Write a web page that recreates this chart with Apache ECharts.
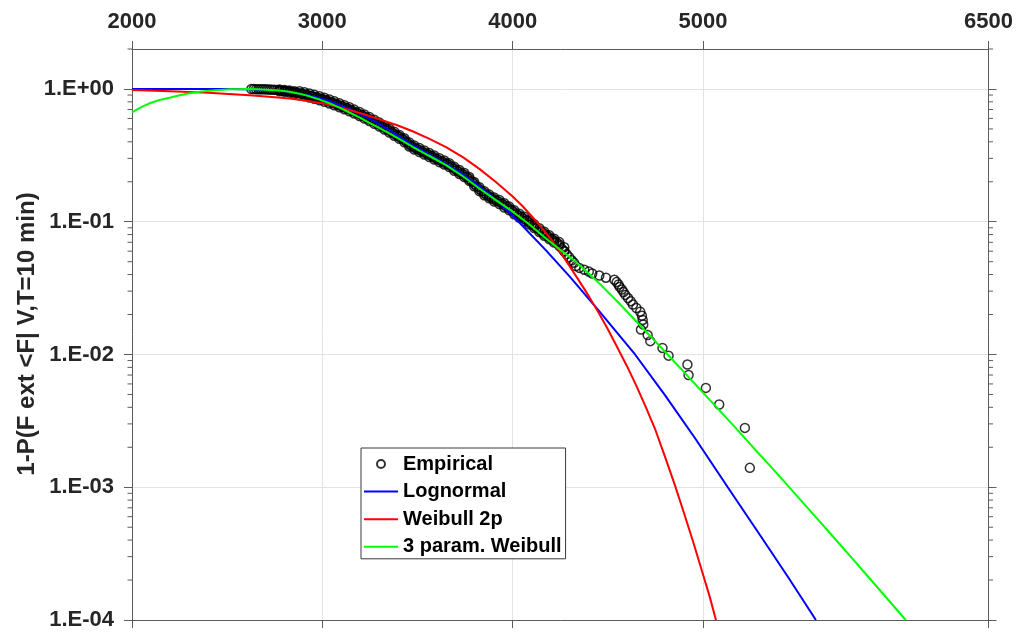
<!DOCTYPE html>
<html>
<head>
<meta charset="utf-8">
<script src="https://cdn.jsdelivr.net/npm/echarts@6/dist/echarts.min.js"></script>
<style>
  html, body { margin: 0; padding: 0; background: #ffffff; }
  #chart { width: 1016px; height: 633px; }
</style>
</head>
<body>
<div id="chart"></div>
<script>
// Axis ticks
const xTickValues = [2000, 3000, 4000, 5000, 6500];
const yTickValues = [1e-4, 1e-3, 1e-2, 1e-1, 1];
const yMinorTickValues = [
  2e-4, 3e-4, 4e-4, 5e-4, 6e-4, 7e-4, 8e-4, 9e-4,
  2e-3, 3e-3, 4e-3, 5e-3, 6e-3, 7e-3, 8e-3, 9e-3,
  2e-2, 3e-2, 4e-2, 5e-2, 6e-2, 7e-2, 8e-2, 9e-2,
  0.2, 0.3, 0.4, 0.5, 0.6, 0.7, 0.8, 0.9, 2
];
const yAxisTitle = '1-P(F ext <F| V,T=10 min)';

// Empirical exceedance probabilities [F, 1-P]: dense body of the sample
const empiricalBody = [
  [2627,0.9986],[2640,0.998],[2652,0.997],[2664,0.996],[2676,0.995],[2688,0.994],[2700,0.993],[2712,0.991],
  [2724,0.989],[2736,0.987],[2748,0.985],[2762,0.982],[2775,0.979],[2788,0.975],[2801,0.970],[2814,0.964],
  [2827,0.957],[2840,0.951],[2853,0.944],[2866,0.937],[2880,0.930],[2893,0.921],[2906,0.912],[2919,0.903],
  [2932,0.893],[2945,0.883],[2958,0.873],[2971,0.862],[2985,0.852],[2998,0.840],[3011,0.829],[3024,0.817],
  [3037,0.805],[3050,0.792],[3063,0.780],[3076,0.767],[3090,0.755],[3103,0.742],[3116,0.729],[3129,0.716],
  [3142,0.703],[3155,0.689],[3168,0.675],[3181,0.661],[3195,0.648],[3208,0.634],[3221,0.620],[3234,0.607],
  [3247,0.594],[3260,0.580],[3273,0.566],[3286,0.552],[3300,0.539],[3313,0.525],[3326,0.512],[3339,0.499],
  [3352,0.486],[3365,0.473],[3378,0.460],[3391,0.448],[3405,0.436],[3418,0.423],[3431,0.411],[3444,0.396],
  [3457,0.382],[3470,0.372],[3483,0.362],[3496,0.354],[3510,0.347],[3523,0.339],[3536,0.332],[3549,0.325],
  [3562,0.318],[3575,0.311],[3588,0.304],[3601,0.297],[3615,0.291],[3628,0.285],[3641,0.279],[3654,0.273],
  [3667,0.267],[3680,0.259],[3693,0.251],[3706,0.244],[3720,0.237],[3733,0.231],[3746,0.225],[3759,0.217],
  [3772,0.210],[3785,0.201],[3798,0.192],[3811,0.184],[3825,0.176],[3838,0.170],[3851,0.164],[3864,0.159],
  [3877,0.155],[3890,0.151],[3903,0.147],[3916,0.144],[3930,0.141],[3943,0.137],[3956,0.133],[3969,0.130],
  [3982,0.126],[3995,0.122],[4008,0.118],[4021,0.114],[4035,0.111],[4048,0.108],[4061,0.105],[4074,0.102],
  [4087,0.0985],[4100,0.0955],[4113,0.0926],[4126,0.0895],[4140,0.0864],[4153,0.0838],[4166,0.0813],[4179,0.0789],
  [4192,0.0765],[4205,0.0742],[4218,0.0720],[4231,0.0699],[4245,0.0675],[4258,0.0630],[4271,0.0600],[4284,0.0570],
  [4297,0.0540],[4310,0.0512],[4323,0.0490]
];
// Upper and lower edges of the dense body
const empiricalBodyUpper = [
  [2775,0.990],[2801,0.982],[2827,0.972],[2853,0.960],
  [2880,0.963],[2906,0.944],[2932,0.924],[2958,0.904],[2985,0.882],[3011,0.858],[3037,0.833],[3063,0.807],
  [3090,0.781],[3116,0.755],[3142,0.728],[3168,0.699],[3195,0.671],[3221,0.642],[3247,0.615],[3273,0.586],
  [3300,0.558],[3326,0.530],[3352,0.503],[3378,0.476],[3405,0.451],[3431,0.425],[3457,0.395],[3483,0.375],
  [3510,0.359],[3536,0.344],[3562,0.329],[3588,0.315],[3615,0.301],[3641,0.289],[3667,0.276],[3693,0.260],
  [3720,0.245],[3746,0.233],[3772,0.217],[3798,0.199],[3825,0.182],[3851,0.170],[3877,0.160],[3903,0.152],
  [3930,0.146],[3956,0.138],[3982,0.130],[4008,0.122],[4035,0.115],[4061,0.109],[4087,0.102],[4113,0.0958],
  [4140,0.0894],[4166,0.0841],[4192,0.0792],[4218,0.0745],[4245,0.0702],[4271,0.0643]
];
const empiricalBodyLower = [
  [2775,0.962],[2801,0.952],[2827,0.938],[2853,0.920],
  [2880,0.898],[2906,0.881],[2932,0.863],[2958,0.843],[2985,0.823],[3011,0.801],[3037,0.778],[3063,0.754],
  [3090,0.729],[3116,0.704],[3142,0.679],[3168,0.652],[3195,0.626],[3221,0.599],[3247,0.574],[3273,0.547],
  [3300,0.521],[3326,0.495],[3352,0.470],[3378,0.444],[3405,0.421],[3431,0.397],[3457,0.369],[3483,0.350],
  [3510,0.335],[3536,0.321],[3562,0.307],[3588,0.294],[3615,0.281],[3641,0.270],[3667,0.258],[3693,0.242],
  [3720,0.229],[3746,0.217],[3772,0.203],[3798,0.185],[3825,0.170],[3851,0.158],[3877,0.150],[3903,0.142],
  [3930,0.136],[3956,0.128],[3982,0.122],[4008,0.114],[4035,0.107],[4061,0.101],[4087,0.0952],[4113,0.0895],
  [4140,0.0835],[4166,0.0785],[4192,0.0739],[4218,0.0696],[4245,0.0655],[4271,0.0600]
];
// Upper tail of the sample
const empiricalTail = [
  [4332,0.0463],[4350,0.0449],[4376,0.0435],[4400,0.0421],[4418,0.0407],[4455,0.0393],[4490,0.0379],[4534,0.0365],
  [4546,0.0351],[4556,0.0337],[4562,0.0323],[4574,0.0309],[4583,0.0295],[4592,0.0281],[4606,0.0266],[4620,0.0252],
  [4632,0.0238],[4650,0.0224],[4670,0.0210],[4679,0.0196],[4683,0.0182],[4686,0.0168],[4674,0.0154],[4709,0.0140],
  [4723,0.0126],[4787,0.0112],[4819,0.0098],[4918,0.0084],[4924,0.0070],[5015,0.0056],[5085,0.0042],[5220,0.0028],
  [5246,0.0014]
];

// Fitted exceedance curves
const lognormalFit = [
  [2000,1.0],[2300,1.0],[2500,0.998],[2650,0.99],[2725,0.978],[2800,0.96],[2875,0.925],[2950,0.88],[3040,0.81],
  [3142,0.705],[3247,0.60],[3340,0.50],[3474,0.378],[3560,0.322],[3650,0.272],[3740,0.227],[3825,0.185],
  [3930,0.140],[4031,0.100],[4175,0.0608],[4300,0.0386],[4450,0.0216],[4643,0.0100],[4800,0.00494],
  [4960,0.00232],[5130,0.00100],[5300,0.000435],[5450,0.000207],[5593,0.00010]
];
const weibull2pFit = [
  [2000,0.982],[2200,0.962],[2400,0.937],[2617,0.897],[2720,0.875],[2827,0.848],[2910,0.818],[3000,0.78],
  [3070,0.74],[3142,0.695],[3220,0.645],[3300,0.59],[3390,0.535],[3474,0.48],[3560,0.422],[3650,0.365],
  [3740,0.305],[3825,0.25],[3910,0.2],[4000,0.155],[4050,0.132],[4100,0.11],[4150,0.091],[4200,0.074],
  [4250,0.059],[4300,0.046],[4350,0.0357],[4400,0.0275],[4450,0.0208],[4500,0.0155],[4550,0.0113],[4600,0.0082],
  [4650,0.0058],[4700,0.0040],[4750,0.0027],[4800,0.0017],[4850,0.00106],[4900,0.00064],[4950,0.00038],
  [5000,0.00022],[5035,0.000150],[5068,0.0001]
];
const weibull3pFit = [
  [2000,0.667],[2046,0.727],[2092,0.78],[2145,0.825],[2197,0.86],[2250,0.897],[2302,0.928],[2355,0.952],
  [2407,0.971],[2460,0.984],[2512,0.993],[2560,0.997],[2600,0.999],[2660,0.994],[2722,0.983],[2775,0.972],
  [2827,0.954],[2880,0.922],[2932,0.88],[2985,0.832],[3037,0.78],[3090,0.723],[3142,0.665],[3195,0.61],
  [3247,0.556],[3300,0.508],[3352,0.463],[3410,0.415],[3474,0.367],[3560,0.314],[3650,0.267],[3740,0.219],
  [3825,0.178],[3910,0.146],[4000,0.119],[4090,0.095],[4175,0.0748],[4250,0.0614],[4332,0.0499],[4450,0.0349],
  [4560,0.0242],[4650,0.0177],[4735,0.0132],[4820,0.00978],[4910,0.00711],[5000,0.00516],[5085,0.00381],[5170,0.00281],
  [5260,0.00202],[5350,0.00146],[5435,0.00107],[5520,0.00078],[5610,0.000558],[5700,0.000399],[5785,0.000290],
  [5870,0.000210],[5960,0.000149],[6065,0.0001]
];

const FONT = '"Liberation Sans", Arial, Helvetica, sans-serif';
const AXIS_COLOR = '#5c5c5c';
const GRID_COLOR = '#e3e3e3';
const TEXT_COLOR = '#262626';

function decadeLabel(v) {
  const e = Math.round(Math.log10(v));
  return '1.E' + (e < 0 ? '-' : '+') + String(Math.abs(e)).padStart(2, '0');
}

const empiricalAll = empiricalBody.concat(empiricalBodyUpper, empiricalBodyLower, empiricalTail);

const lineBase = { type: 'line', symbol: 'none', smooth: false, silent: true };
const lineLegendItem = name => ({ name: name, itemStyle: { opacity: 0 } });

const chart = echarts.init(document.getElementById('chart'), null, { renderer: 'canvas' });

chart.setOption({
  animation: false,
  backgroundColor: '#ffffff',
  textStyle: { fontFamily: FONT },
  grid: { left: 132, right: 27, top: 49, bottom: 13, containLabel: false },
  // rotated y-axis title, centred on the plot height
  graphic: [{
    type: 'text', x: 27, y: 334, rotation: Math.PI / 2, silent: true,
    style: {
      text: yAxisTitle, fill: TEXT_COLOR, align: 'center', verticalAlign: 'middle',
      font: 'bold 24px ' + FONT
    }
  }],
  xAxis: [
    {
      type: 'value', position: 'top', min: 2000, max: 6500,
      axisLine: { show: true, lineStyle: { color: AXIS_COLOR, width: 1 } },
      axisTick: { show: true, inside: false, length: 8, customValues: xTickValues, lineStyle: { color: AXIS_COLOR } },
      axisLabel: {
        customValues: xTickValues, formatter: v => String(v),
        fontSize: 22, fontWeight: 'bold', color: TEXT_COLOR, fontFamily: FONT, margin: 16
      },
      splitLine: { show: true, lineStyle: { color: GRID_COLOR, width: 1 } }
    },
    {
      type: 'value', position: 'bottom', min: 2000, max: 6500,
      axisLine: { show: true, onZero: false, lineStyle: { color: AXIS_COLOR, width: 1 } },
      axisTick: { show: true, inside: false, length: 8, customValues: xTickValues, lineStyle: { color: AXIS_COLOR } },
      axisLabel: { show: false },
      splitLine: { show: false }
    }
  ],
  yAxis: [
    {
      type: 'log', logBase: 10, position: 'left', min: 1e-4, max: 2,
      axisLine: { show: true, lineStyle: { color: AXIS_COLOR, width: 1 } },
      axisTick: { show: true, inside: false, length: 8, customValues: yTickValues, lineStyle: { color: AXIS_COLOR } },
      axisLabel: {
        customValues: yTickValues, formatter: decadeLabel,
        fontSize: 22, fontWeight: 'bold', color: TEXT_COLOR, fontFamily: FONT, margin: 18
      },
      splitLine: { show: true, lineStyle: { color: GRID_COLOR, width: 1 } }
    },
    {
      type: 'log', logBase: 10, position: 'right', min: 1e-4, max: 2,
      axisLine: { show: true, lineStyle: { color: AXIS_COLOR, width: 1 } },
      axisTick: { show: true, inside: false, length: 8, customValues: yTickValues, lineStyle: { color: AXIS_COLOR } },
      axisLabel: { show: false },
      splitLine: { show: false }
    }
  ],
  legend: {
    data: ['Empirical', lineLegendItem('Lognormal'), lineLegendItem('Weibull 2p'), lineLegendItem('3 param. Weibull')],
    orient: 'vertical', left: 361, top: 448,
    padding: [5, 4, 1, 2],
    itemWidth: 34, itemHeight: 8, itemGap: 5.6,
    backgroundColor: '#ffffff', borderColor: '#3a3a3a', borderWidth: 1, borderRadius: 0,
    selectedMode: false,
    textStyle: { fontSize: 20, fontWeight: 'bold', color: '#000000', fontFamily: FONT, lineHeight: 22 }
  },
  series: [
    {
      name: 'Empirical', type: 'scatter', data: empiricalAll,
      symbol: 'circle', symbolSize: 9, progressive: 0, silent: true, z: 2,
      itemStyle: { color: 'rgba(255,255,255,0)', borderColor: '#000000', borderWidth: 1.5 }
    },
    Object.assign({}, lineBase, {
      name: 'Lognormal', data: lognormalFit, z: 3,
      lineStyle: { color: '#0000ff', width: 2 }, itemStyle: { color: '#0000ff' }
    }),
    Object.assign({}, lineBase, {
      name: 'Weibull 2p', data: weibull2pFit, z: 4,
      lineStyle: { color: '#ff0000', width: 2 }, itemStyle: { color: '#ff0000' }
    }),
    Object.assign({}, lineBase, {
      name: '3 param. Weibull', data: weibull3pFit, z: 5,
      lineStyle: { color: '#00ff00', width: 2 }, itemStyle: { color: '#00ff00' }
    }),
    {
      // logarithmic minor ticks on the left and right frame
      name: 'minorTicks', type: 'custom', silent: true, clip: false, z: 6,
      data: yMinorTickValues.map(v => [2000, v]),
      renderItem: function (params, api) {
        const y = api.coord([api.value(0), api.value(1)])[1];
        const cs = params.coordSys;
        const style = { stroke: AXIS_COLOR, lineWidth: 1 };
        return {
          type: 'group',
          children: [
            { type: 'line', shape: { x1: cs.x - 4.5, y1: y, x2: cs.x, y2: y }, style: style },
            { type: 'line', shape: { x1: cs.x + cs.width, y1: y, x2: cs.x + cs.width + 4.5, y2: y }, style: style }
          ]
        };
      }
    }
  ]
});
</script>
</body>
</html>
